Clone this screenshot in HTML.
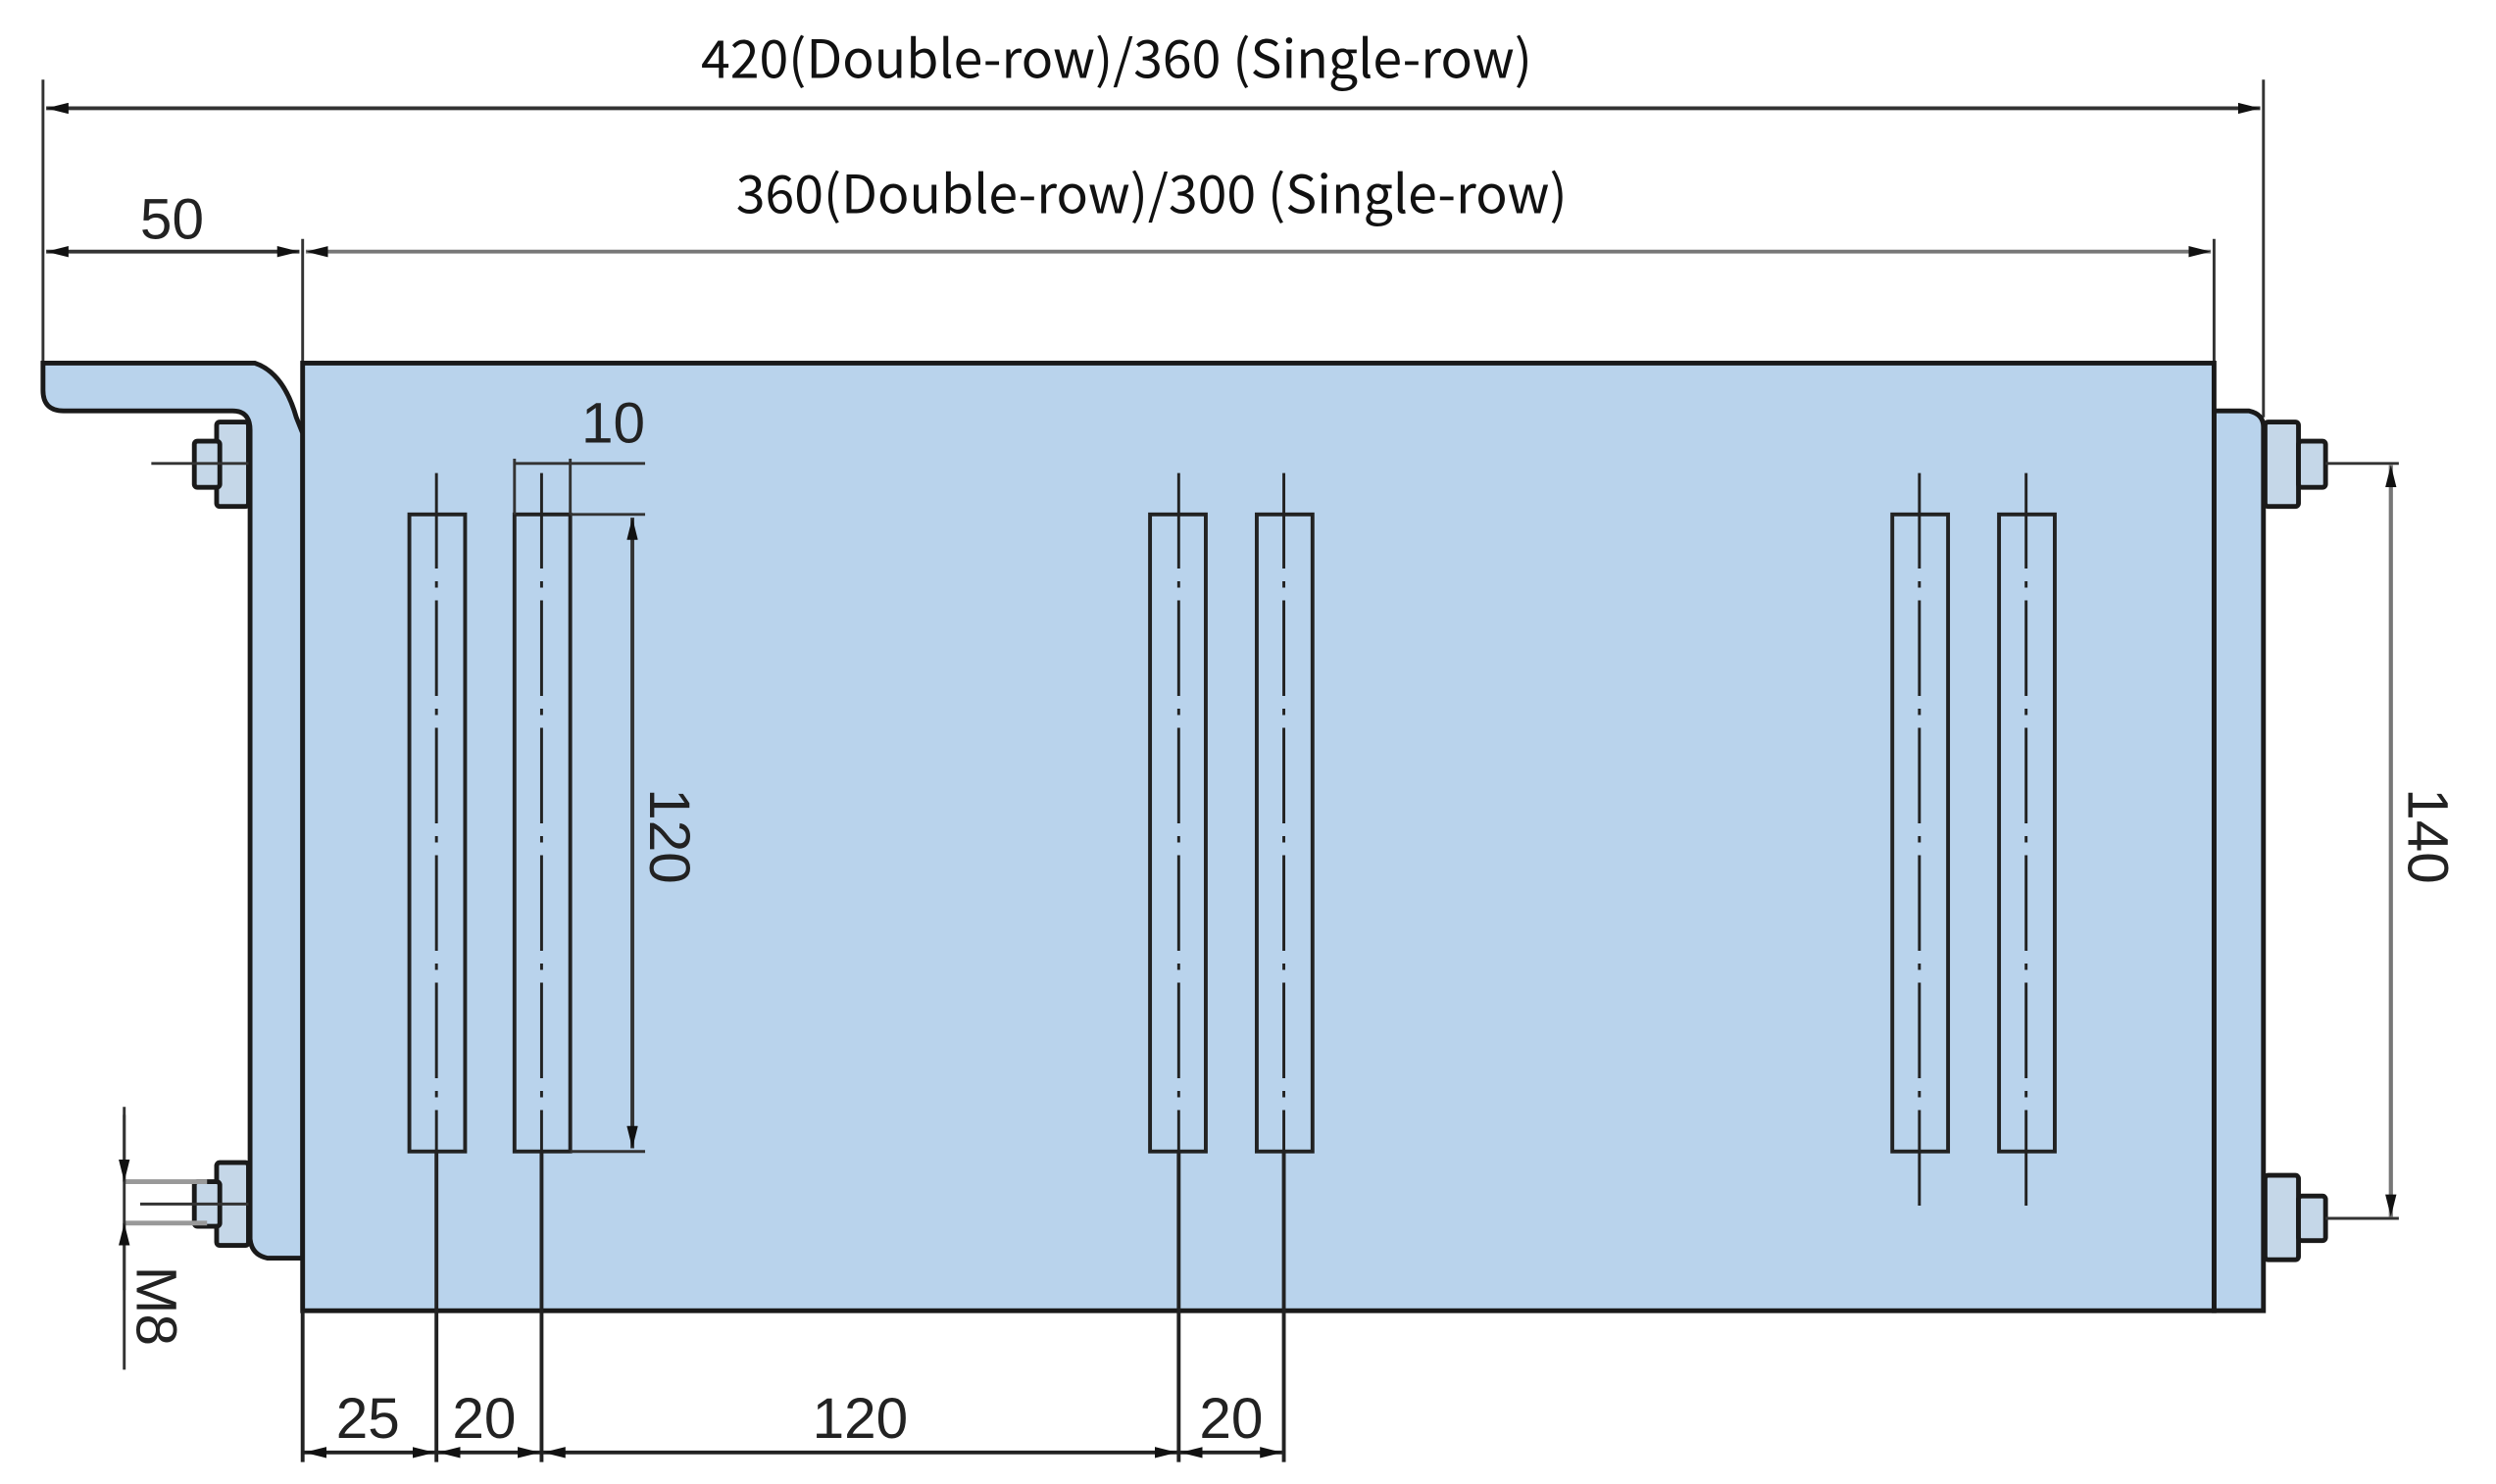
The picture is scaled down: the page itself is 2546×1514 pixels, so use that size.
<!DOCTYPE html>
<html><head><meta charset="utf-8"><style>
html,body{margin:0;padding:0;background:#fff;width:2546px;height:1514px;overflow:hidden}
svg{display:block}
.t{font-family:"Liberation Sans","Noto Sans CJK SC",sans-serif;fill:#222}
.c{font-family:"Noto Sans CJK SC","Liberation Sans",sans-serif;fill:#111}
</style></head><body>
<svg width="2546" height="1514" viewBox="0 0 1567 931.8" preserveAspectRatio="none" xmlns="http://www.w3.org/2000/svg">
<defs>
<marker id="a" viewBox="0 0 14 7" refX="14" refY="3.5" markerWidth="14" markerHeight="7" orient="auto-start-reverse" markerUnits="userSpaceOnUse"><path d="M0,0L14,3.5L0,7z" fill="#111"/></marker>
</defs>
<g stroke="#333" stroke-width="1.8" fill="none">
<line x1="27" y1="50" x2="27" y2="230"/>
<line x1="1421" y1="50" x2="1421" y2="262"/>
<line x1="190" y1="150" x2="190" y2="228"/>
<line x1="1390" y1="150" x2="1390" y2="228"/>
<line x1="29" y1="68" x2="1419" y2="68" stroke-width="2.4" marker-start="url(#a)" marker-end="url(#a)"/>
<line x1="192" y1="158" x2="1388" y2="158" stroke-width="2.4" stroke="#777" marker-start="url(#a)" marker-end="url(#a)"/>
<line x1="29" y1="158" x2="188" y2="158" stroke-width="2.4" marker-start="url(#a)" marker-end="url(#a)"/>
</g>
<text class="c" x="701" y="49" font-size="33" text-anchor="middle">420(Double-row)/360 (Single-row)</text>
<text class="c" x="723" y="134" font-size="33" text-anchor="middle">360(Double-row)/300 (Single-row)</text>
<text class="t" x="108" y="150" font-size="36" text-anchor="middle">50</text>
<path d="M27,228 L160,228 Q178,234 186,262 L190,272 L190,790 L168,790 Q158,788 157,778 L157,270 Q157,258 146,258 L40,258 Q27,258 27,245 Z" fill="#b9d3ec" stroke="#1a1a1a" stroke-width="3"/>
<path d="M1390,258 L1412,258 Q1421,260 1421,268 L1421,823 L1390,823 Z" fill="#b9d3ec" stroke="#1a1a1a" stroke-width="3"/>
<rect x="190" y="228" width="1200" height="595" fill="#b9d3ec" stroke="#1a1a1a" stroke-width="3"/>
<g fill="#c5d7e8" stroke="#1a1a1a" stroke-width="3">
<rect x="136" y="265" width="20" height="53" rx="2"/><rect x="122" y="277" width="16" height="29" rx="2"/>
<rect x="136" y="730" width="20" height="52" rx="2"/><rect x="122" y="742" width="16" height="28" rx="2"/>
<rect x="1422" y="265" width="21" height="53" rx="2"/><rect x="1443" y="277" width="17" height="29" rx="2"/>
<rect x="1422" y="738" width="21" height="53" rx="2"/><rect x="1443" y="751" width="17" height="28" rx="2"/>
</g>
<g stroke="#333" stroke-width="1.8">
<line x1="95" y1="291" x2="156" y2="291"/><line x1="88" y1="756" x2="156" y2="756"/>
<line x1="1460" y1="291" x2="1506" y2="291"/><line x1="1460" y1="765" x2="1506" y2="765"/>
<line x1="78" y1="742" x2="130" y2="742" stroke="#999" stroke-width="3"/><line x1="78" y1="768" x2="130" y2="768" stroke="#999" stroke-width="3"/>
<line x1="78" y1="695" x2="78" y2="860"/>
<line x1="78" y1="700" x2="78" y2="742" marker-end="url(#a)"/>
<line x1="78" y1="810" x2="78" y2="768" marker-end="url(#a)"/>
<line x1="1501" y1="292" x2="1501" y2="764" stroke-width="2.6" stroke="#777" marker-start="url(#a)" marker-end="url(#a)"/>
</g>
<text class="t" x="0" y="0" font-size="36" transform="translate(86,795) rotate(90)">M8</text>
<text class="t" x="0" y="0" font-size="36" text-anchor="middle" transform="translate(1512,525) rotate(90)">140</text>
<g fill="#b9d3ec" stroke="#222" stroke-width="2.4">
<rect x="257" y="323" width="35" height="400"/><rect x="323" y="323" width="35" height="400"/>
<rect x="722" y="323" width="35" height="400"/><rect x="789" y="323" width="35" height="400"/>
<rect x="1188" y="323" width="35" height="400"/><rect x="1255" y="323" width="35" height="400"/>
</g>
<g stroke="#222" stroke-width="1.8" stroke-dasharray="60,8,4,8" fill="none">
<line x1="274" y1="297" x2="274" y2="760"/><line x1="340" y1="297" x2="340" y2="760"/>
<line x1="740" y1="297" x2="740" y2="760"/><line x1="806" y1="297" x2="806" y2="760"/>
<line x1="1205" y1="297" x2="1205" y2="760"/><line x1="1272" y1="297" x2="1272" y2="760"/>
</g>
<g stroke="#333" stroke-width="1.8" fill="none">
<line x1="323" y1="288" x2="323" y2="323"/><line x1="358" y1="288" x2="358" y2="323"/>
<line x1="323" y1="291" x2="405" y2="291"/>
<line x1="358" y1="323" x2="405" y2="323"/><line x1="358" y1="723" x2="405" y2="723"/>
<line x1="397" y1="325" x2="397" y2="721" stroke-width="2.4" marker-start="url(#a)" marker-end="url(#a)"/>
</g>
<text class="t" x="385" y="278" font-size="36" text-anchor="middle">10</text>
<text class="t" x="0" y="0" font-size="36" text-anchor="middle" transform="translate(408,525) rotate(90)">120</text>
<g stroke="#222" stroke-width="2.4" fill="none">
<line x1="190" y1="823" x2="190" y2="918"/><line x1="274" y1="723" x2="274" y2="918"/>
<line x1="340" y1="723" x2="340" y2="918"/><line x1="740" y1="723" x2="740" y2="918"/>
<line x1="806" y1="723" x2="806" y2="918"/>
<line x1="191" y1="912" x2="273" y2="912" marker-start="url(#a)" marker-end="url(#a)"/>
<line x1="275" y1="912" x2="339" y2="912" marker-start="url(#a)" marker-end="url(#a)"/>
<line x1="341" y1="912" x2="739" y2="912" marker-start="url(#a)" marker-end="url(#a)"/>
<line x1="741" y1="912" x2="805" y2="912" marker-start="url(#a)" marker-end="url(#a)"/>
</g>
<text class="t" x="231" y="903" font-size="36" text-anchor="middle">25</text>
<text class="t" x="304" y="903" font-size="36" text-anchor="middle">20</text>
<text class="t" x="540" y="903" font-size="36" text-anchor="middle">120</text>
<text class="t" x="773" y="903" font-size="36" text-anchor="middle">20</text>
</svg>
</body></html>
